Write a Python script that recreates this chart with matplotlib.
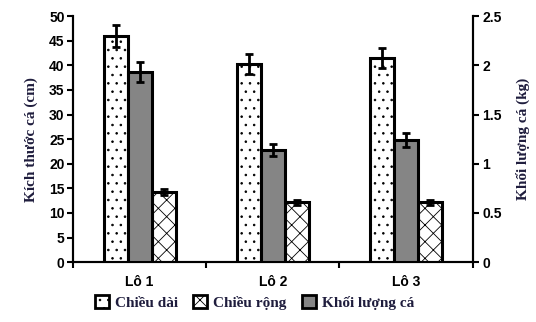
import numpy as np
import matplotlib.pyplot as plt
from matplotlib.patches import Patch

plt.rcParams['hatch.linewidth'] = 0.6

lots = ["Lô 1", "Lô 2", "Lô 3"]
chieu_dai = [46.0, 40.3, 41.5]
chieu_dai_err = [2.2, 2.0, 2.1]
khoi_luong = [1.93, 1.14, 1.24]
khoi_luong_err = [0.1, 0.06, 0.07]
chieu_rong = [14.3, 12.2, 12.2]
chieu_rong_err = [0.6, 0.5, 0.5]

txt_color = '#1f1d3d'
tick_font = dict(family=['Liberation Sans Narrow', 'Liberation Sans', 'DejaVu Sans'], weight='bold', size=10)
serif = ['Liberation Serif', 'DejaVu Serif']

fig = plt.figure(figsize=(5.36, 3.22), dpi=100)
ax = fig.add_axes([0.136, 0.186, 0.746, 0.764])
ax2 = ax.twinx()

x = np.arange(len(lots))
w = 0.18
ekw = dict(elinewidth=2, capsize=3, capthick=2, ecolor='black')

ax.bar(x - w, chieu_dai, w, yerr=chieu_dai_err, facecolor='white', edgecolor='black',
       hatch='..', linewidth=2.2, error_kw=ekw, zorder=3)
ax2.bar(x, khoi_luong, w, yerr=khoi_luong_err, facecolor='#858585', edgecolor='black',
        linewidth=2.2, error_kw=ekw, zorder=3)
ax.bar(x + w, chieu_rong, w, yerr=chieu_rong_err, facecolor='white', edgecolor='black',
       hatch='xx', linewidth=2.2, error_kw=ekw, zorder=3)

ax.set_xlim(-0.5, 2.5)
ax.set_ylim(0, 50)
ax2.set_ylim(0, 2.5)
ax.set_yticks(np.arange(0, 51, 5))
ax2.set_yticks([0, 0.5, 1, 1.5, 2, 2.5])
ax2.set_yticklabels(["0", "0.5", "1", "1.5", "2", "2.5"])

# category boundaries as tick marks, names in between
ax.set_xticks([-0.5, 0.5, 1.5, 2.5])
ax.set_xticklabels([])
ax.set_xticks(x, minor=True)
ax.set_xticklabels(lots, minor=True)
ax.tick_params(axis='x', which='minor', length=0, pad=9)
ax.tick_params(axis='x', which='major', length=4, width=1.5)

for a in (ax, ax2):
    a.spines['top'].set_visible(False)
    for s in ('left', 'right', 'bottom'):
        a.spines[s].set_linewidth(1.5)
    for lab in a.get_yticklabels() + a.get_xticklabels(minor=True):
        lab.set_fontproperties(tick_font)
ax.tick_params(axis='y', length=4, width=1.5, pad=2)
ax2.tick_params(axis='y', length=4, width=1.5, pad=3)

ax.set_ylabel("Kích thước cá (cm)", family=serif, weight='bold', size=11, color=txt_color, labelpad=8)
ax2.set_ylabel("Khối lượng cá (kg)", family=serif, weight='bold', size=11, color=txt_color, labelpad=10)

handles = [Patch(facecolor='white', edgecolor='black', hatch='..', linewidth=2),
           Patch(facecolor='white', edgecolor='black', hatch='xx', linewidth=2),
           Patch(facecolor='#858585', edgecolor='black', linewidth=2)]
fig.legend(handles, ["Chiều dài", "Chiều rộng", "Khối lượng cá"], loc='center',
           bbox_to_anchor=(0.475, 0.06), ncol=3, frameon=False,
           prop=dict(family=serif, weight='bold', size=11),
           handlelength=0.9, handleheight=0.9, handletextpad=0.4, columnspacing=1.0,
           labelcolor=txt_color)

fig.savefig("out.png", dpi=100)
